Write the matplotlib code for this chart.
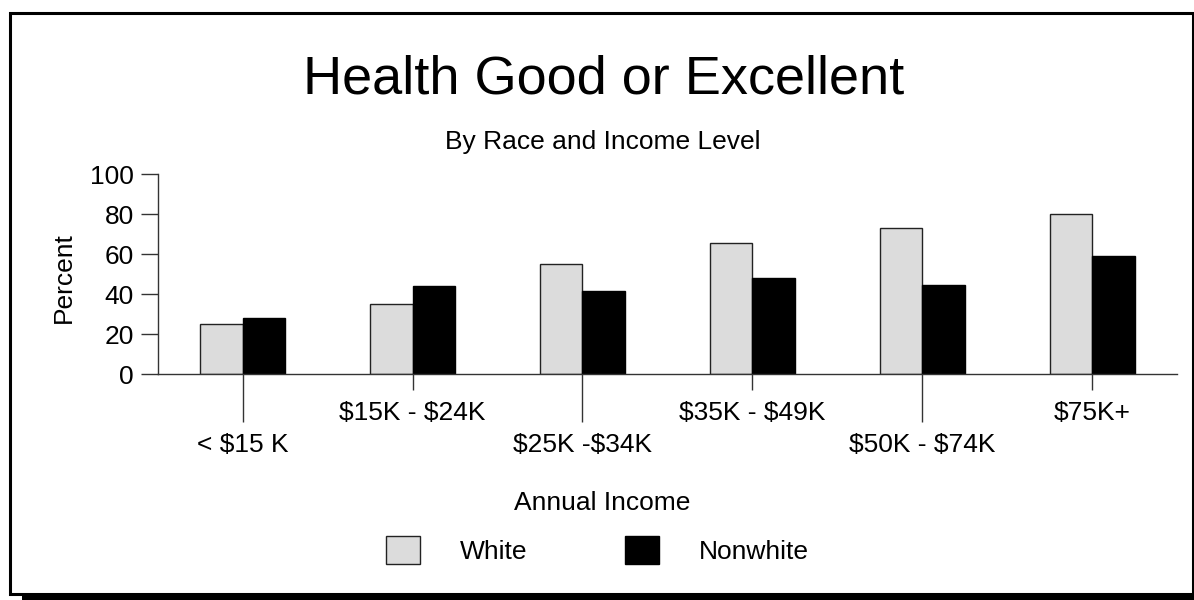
import matplotlib.pyplot as plt
import numpy as np
from matplotlib.patches import Rectangle

plt.rcParams['font.family'] = ['Liberation Sans', 'DejaVu Sans']
plt.rcParams['text.parse_math'] = False

# income groups and percent reporting good/excellent health
incomes = ['< $15 K', '$15K - $24K', '$25K -$34K', '$35K - $49K', '$50K - $74K', '$75K+']
white = [25, 35, 55, 65.5, 73, 80]
nonwhite = [28, 44, 41.5, 48, 44.5, 59]
yticks = [0, 20, 40, 60, 80, 100]

W, H = 1194, 600
fig = plt.figure(figsize=(W / 100, H / 100), dpi=100)
ax = fig.add_axes([157.7 / W, 1 - 374 / H, 1019.5 / W, 200 / H])

x = np.arange(len(incomes))
bw = 0.25
b1 = ax.bar(x - bw / 2, white, bw, color='#dcdcdc', edgecolor='#222222', linewidth=1, label='White')
b2 = ax.bar(x + bw / 2, nonwhite, bw, color='black', edgecolor='black', linewidth=1, label='Nonwhite')

ax.set_xlim(-0.5, 5.5)
ax.set_ylim(0, 100)
ax.set_yticks(yticks)
for s in ['top', 'right']:
    ax.spines[s].set_visible(False)
for s in ['left', 'bottom']:
    ax.spines[s].set_color('#333333')
    ax.spines[s].set_linewidth(1)

fs = 19
# staggered category labels: long ticks on even groups, short ticks on odd ones
ax.set_xticks(x[::2], [incomes[i] for i in x[::2]])
ax.set_xticks(x[1::2], [incomes[i] for i in x[1::2]], minor=True)
ax.tick_params(axis='x', which='major', length=34.5, width=1, color='#333333', pad=8, labelsize=fs)
ax.tick_params(axis='x', which='minor', length=11.5, width=1, color='#333333', pad=8, labelsize=fs)
ax.tick_params(axis='y', length=12, width=1, color='#333333', pad=5, labelsize=fs)

ax.set_ylabel('Percent', fontsize=fs)
ax.yaxis.set_label_coords((76 - 157.7) / 1019.5, 0.48)

fig.text(604 / W, 1 - 80 / H, 'Health Good or Excellent', fontsize=39, ha='center', va='center')
fig.text(603 / W, 1 - 142 / H, 'By Race and Income Level', fontsize=fs, ha='center', va='center')
fig.text(602 / W, 1 - 503 / H, 'Annual Income', fontsize=fs, ha='center', va='center')

fig.legend(handles=[b1, b2], loc='center', bbox_to_anchor=(597 / W, 1 - 550 / H), ncol=2,
           frameon=False, fontsize=fs, handlelength=1.3, handleheight=1.3,
           handletextpad=1.5, columnspacing=3.7)

# outer frame with a drop shadow along the bottom
fig.add_artist(Rectangle((9.5 / W, 6 / H), 1183 / W, 581.5 / H, transform=fig.transFigure,
                         fill=False, edgecolor='black', linewidth=2.2))
fig.add_artist(Rectangle((22 / W, 0), (W - 22) / W, 5 / H, transform=fig.transFigure,
                         facecolor='black', edgecolor='none'))

fig.savefig('out.png', dpi=100)
